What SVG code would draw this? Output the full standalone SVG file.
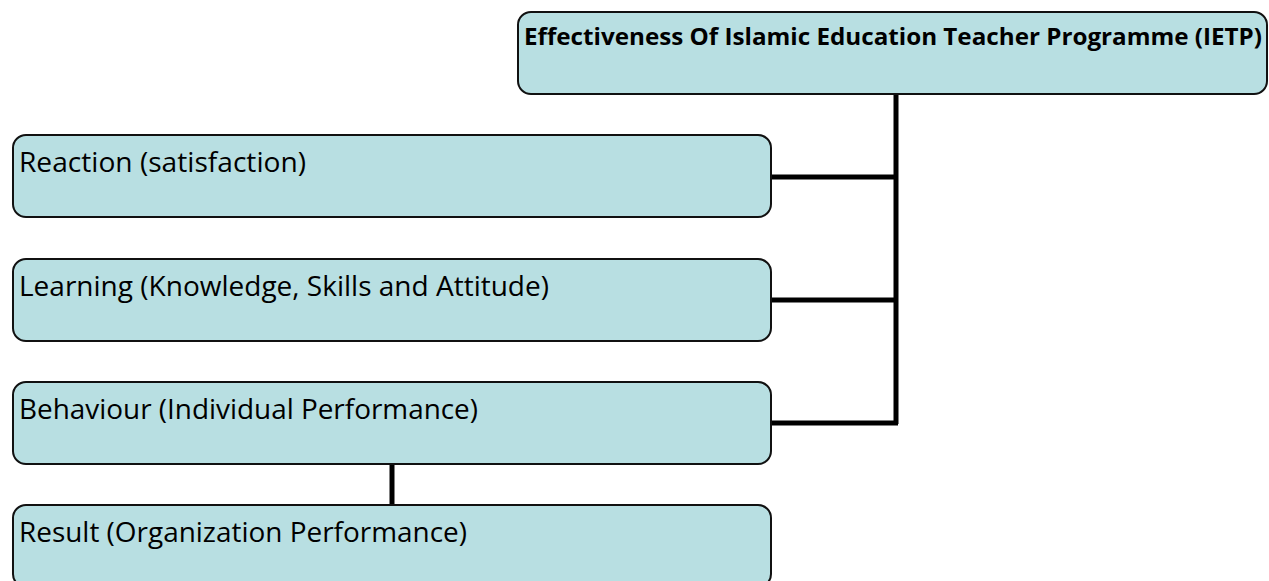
<svg xmlns="http://www.w3.org/2000/svg" width="1269" height="581" viewBox="0 0 1269 581">
<style>
.box{fill:#b8dfe2;stroke:#111;stroke-width:2}
.t{font-family:"Open Sans","Liberation Sans",sans-serif;font-size:27px;fill:#000}
.tb{font-family:"Open Sans","Liberation Sans",sans-serif;font-size:23.5px;font-weight:bold;fill:#000}
.c{stroke:#000;stroke-width:5;fill:none}
</style>
<rect width="1269" height="581" fill="#fff"/>
<g id="connectors">
<path class="c" d="M896 94 V424"/>
<path class="c" d="M771 177 H898"/>
<path class="c" d="M771 300 H898"/>
<path class="c" d="M771 423 H898"/>
<path class="c" d="M392 464 V506"/>
</g>
<g id="node-ietp">
<rect class="box" x="518" y="12" width="749" height="82" rx="13"/>
<text class="tb" x="524" y="45" textLength="738" lengthAdjust="spacingAndGlyphs">Effectiveness Of Islamic Education Teacher Programme (IETP)</text>
</g>
<g id="node-reaction">
<rect class="box" x="13" y="135" width="758" height="82" rx="13"/>
<text class="t" x="19" y="172" textLength="287" lengthAdjust="spacingAndGlyphs">Reaction (satisfaction)</text>
</g>
<g id="node-learning">
<rect class="box" x="13" y="259" width="758" height="82" rx="13"/>
<text class="t" x="19" y="296" textLength="530" lengthAdjust="spacingAndGlyphs">Learning (Knowledge, Skills and Attitude)</text>
</g>
<g id="node-behaviour">
<rect class="box" x="13" y="382" width="758" height="82" rx="13"/>
<text class="t" x="19" y="419" textLength="459" lengthAdjust="spacingAndGlyphs">Behaviour (Individual Performance)</text>
</g>
<g id="node-result">
<rect class="box" x="13" y="505" width="758" height="82" rx="13"/>
<text class="t" x="19" y="542" textLength="448" lengthAdjust="spacingAndGlyphs">Result (Organization Performance)</text>
</g>
</svg>
